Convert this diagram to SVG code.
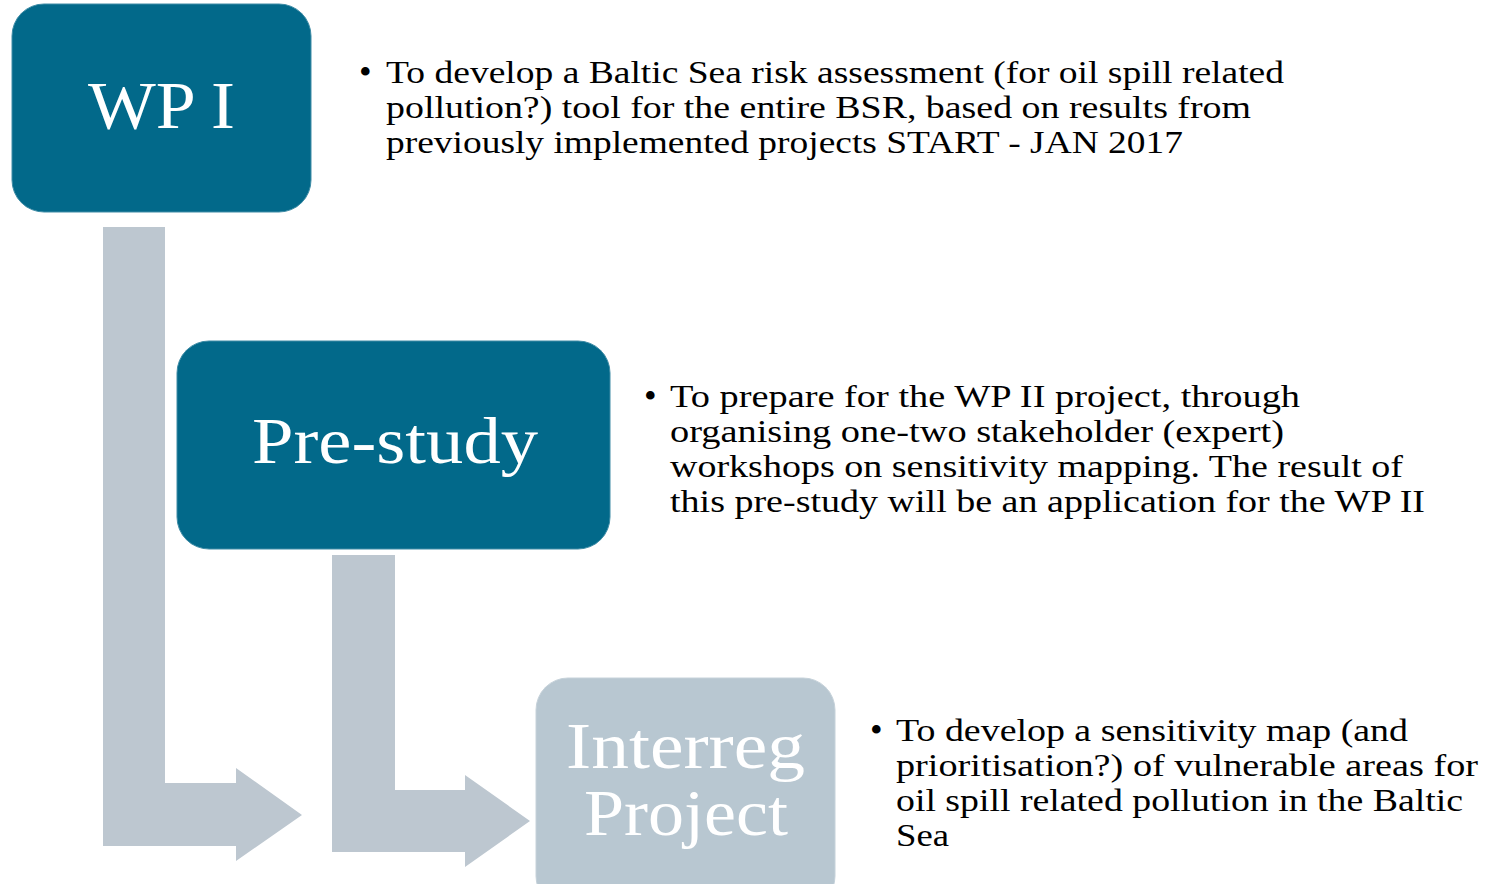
<svg xmlns="http://www.w3.org/2000/svg" width="1486" height="884" viewBox="0 0 1486 884">
<style>
.dark{fill:#02698a;stroke:#3f8ca6;stroke-width:1}
.light{fill:#b8c7d1;stroke:#c6d2da;stroke-width:1}
.arrow{fill:#bdc7d0}
.lbl{font-family:"Liberation Serif","DejaVu Serif",serif;fill:#ffffff;text-anchor:middle}
.body{font-family:"Liberation Serif","DejaVu Serif",serif;font-size:32px;fill:#000000}
.bul{font-family:"Liberation Serif","DejaVu Serif",serif;font-size:36px;fill:#000000}
</style>
<rect width="1486" height="884" fill="#ffffff"/>
<g id="connectors">
<path class="arrow" d="M103,227 H165 V783 H236 V768 L302,815 L236,861 V846 H103 Z"/>
<path class="arrow" d="M332,555 H395 V790 H465 V775 L530,821 L465,867 V852 H332 Z"/>
</g>
<g id="wp1">
<rect class="dark" x="12" y="4" width="299" height="208" rx="32" ry="32"/>
<text class="lbl" x="161.5" y="128" font-size="68" textLength="147" lengthAdjust="spacingAndGlyphs">WP I</text>
</g>
<g id="prestudy">
<rect class="dark" x="177" y="341" width="433" height="208" rx="32" ry="32"/>
<text class="lbl" x="395" y="463" font-size="65" textLength="286" lengthAdjust="spacingAndGlyphs">Pre-study</text>
</g>
<g id="interreg">
<rect class="light" x="536" y="678" width="299" height="230" rx="32" ry="32"/>
<text class="lbl" x="685.5" y="768" font-size="66" textLength="239" lengthAdjust="spacingAndGlyphs">Interreg</text>
<text class="lbl" x="686" y="835" font-size="66" textLength="204" lengthAdjust="spacingAndGlyphs">Project</text>
</g>
<g id="text-wp1">
<text class="bul" x="359" y="84">•</text>
<text class="body" x="386" y="83" textLength="898" lengthAdjust="spacingAndGlyphs">To develop a Baltic Sea risk assessment (for oil spill related</text>
<text class="body" x="386" y="118" textLength="865" lengthAdjust="spacingAndGlyphs">pollution?) tool for the entire BSR, based on results from</text>
<text class="body" x="386" y="153" textLength="797" lengthAdjust="spacingAndGlyphs">previously implemented projects START - JAN 2017</text>
</g>
<g id="text-prestudy">
<text class="bul" x="644" y="408">•</text>
<text class="body" x="670" y="407" textLength="630" lengthAdjust="spacingAndGlyphs">To prepare for the WP II project, through</text>
<text class="body" x="670" y="442" textLength="614" lengthAdjust="spacingAndGlyphs">organising one-two stakeholder (expert)</text>
<text class="body" x="670" y="477" textLength="733" lengthAdjust="spacingAndGlyphs">workshops on sensitivity mapping. The result of</text>
<text class="body" x="670" y="512" textLength="755" lengthAdjust="spacingAndGlyphs">this pre-study will be an application for the WP II</text>
</g>
<g id="text-interreg">
<text class="bul" x="870" y="742">•</text>
<text class="body" x="896" y="741" textLength="512" lengthAdjust="spacingAndGlyphs">To develop a sensitivity map (and</text>
<text class="body" x="896" y="776" textLength="582" lengthAdjust="spacingAndGlyphs">prioritisation?) of vulnerable areas for</text>
<text class="body" x="896" y="811" textLength="567" lengthAdjust="spacingAndGlyphs">oil spill related pollution in the Baltic</text>
<text class="body" x="896" y="846" textLength="53" lengthAdjust="spacingAndGlyphs">Sea</text>
</g>
</svg>
